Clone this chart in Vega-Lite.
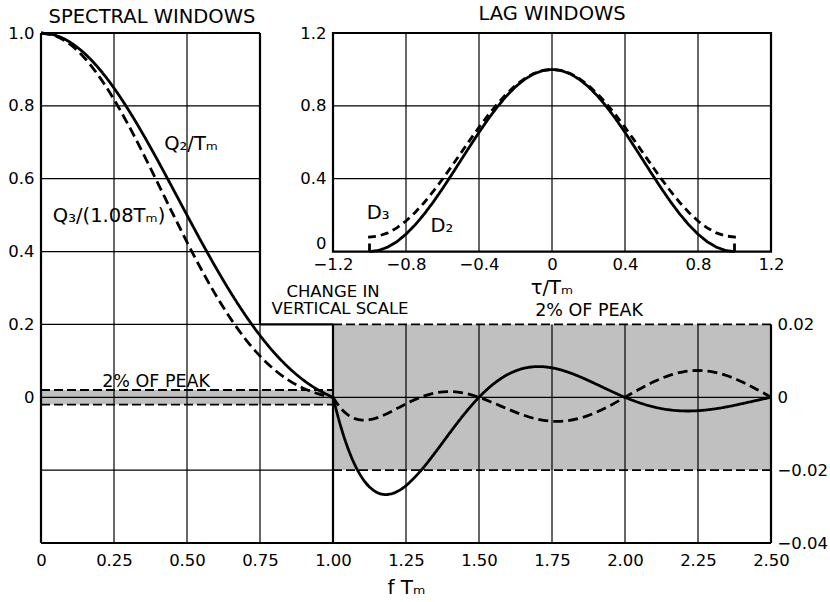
{
  "$schema": "https://vega.github.io/schema/vega-lite/v6.json",
  "width": 730,
  "height": 510,
  "autosize": "none",
  "padding": {"left": 41, "top": 33, "right": 59, "bottom": 59},
  "background": "white",
  "config": {
    "view": {"stroke": null},
    "font": "DejaVu Sans",
    "text": {"font": "DejaVu Sans", "color": "black"},
    "axis": {
      "domain": false, "ticks": false, "grid": false,
      "labelFont": "DejaVu Sans", "labelFontSize": 16.5, "labelColor": "black",
      "labelFlush": false, "labelOverlap": false,
      "titleFont": "DejaVu Sans", "titleColor": "black", "titleFontWeight": "normal", "titleFontSize": 20
    }
  },
  "datasets": {
    "spectral": [
      {"f": 0, "q": 1, "window": "Q2"},
      {"f": 0.05, "q": 0.99357, "window": "Q2"},
      {"f": 0.1, "q": 0.97447, "window": "Q2"},
      {"f": 0.15, "q": 0.94329, "window": "Q2"},
      {"f": 0.2, "q": 0.90099, "window": "Q2"},
      {"f": 0.25, "q": 0.84883, "window": "Q2"},
      {"f": 0.3, "q": 0.78836, "window": "Q2"},
      {"f": 0.35, "q": 0.72133, "window": "Q2"},
      {"f": 0.4, "q": 0.64965, "window": "Q2"},
      {"f": 0.45, "q": 0.57522, "window": "Q2"},
      {"f": 0.5, "q": 0.5, "window": "Q2"},
      {"f": 0.55, "q": 0.42582, "window": "Q2"},
      {"f": 0.6, "q": 0.35436, "window": "Q2"},
      {"f": 0.65, "q": 0.28709, "window": "Q2"},
      {"f": 0.7, "q": 0.22525, "window": "Q2"},
      {"f": 0.75, "q": 0.16977, "window": "Q2"},
      {"f": 0.8, "q": 0.12129, "window": "Q2"},
      {"f": 0.85, "q": 0.08015, "window": "Q2"},
      {"f": 0.9, "q": 0.0464, "window": "Q2"},
      {"f": 0.95, "q": 0.01984, "window": "Q2"},
      {"f": 1.0, "q": 0, "window": "Q2"},
      {"f": 1.025, "q": -0.007584, "window": "Q2"},
      {"f": 1.05, "q": -0.013736, "window": "Q2"},
      {"f": 1.075, "q": -0.018555, "window": "Q2"},
      {"f": 1.1, "q": -0.022147, "window": "Q2"},
      {"f": 1.125, "q": -0.024624, "window": "Q2"},
      {"f": 1.15, "q": -0.026099, "window": "Q2"},
      {"f": 1.175, "q": -0.026686, "window": "Q2"},
      {"f": 1.2, "q": -0.0265, "window": "Q2"},
      {"f": 1.225, "q": -0.025652, "window": "Q2"},
      {"f": 1.25, "q": -0.024252, "window": "Q2"},
      {"f": 1.3, "q": -0.020215, "window": "Q2"},
      {"f": 1.35, "q": -0.015163, "window": "Q2"},
      {"f": 1.4, "q": -0.009769, "window": "Q2"},
      {"f": 1.45, "q": -0.004577, "window": "Q2"},
      {"f": 1.5, "q": 0, "window": "Q2"},
      {"f": 1.55, "q": 0.003685, "window": "Q2"},
      {"f": 1.6, "q": 0.006328, "window": "Q2"},
      {"f": 1.65, "q": 0.00789, "window": "Q2"},
      {"f": 1.7, "q": 0.008432, "window": "Q2"},
      {"f": 1.75, "q": 0.008084, "window": "Q2"},
      {"f": 1.8, "q": 0.007031, "window": "Q2"},
      {"f": 1.85, "q": 0.005485, "window": "Q2"},
      {"f": 1.9, "q": 0.003663, "window": "Q2"},
      {"f": 1.95, "q": 0.001775, "window": "Q2"},
      {"f": 2.0, "q": 0, "window": "Q2"},
      {"f": 2.05, "q": -0.001518, "window": "Q2"},
      {"f": 2.1, "q": -0.002677, "window": "Q2"},
      {"f": 2.15, "q": -0.003424, "window": "Q2"},
      {"f": 2.2, "q": -0.003747, "window": "Q2"},
      {"f": 2.25, "q": -0.003675, "window": "Q2"},
      {"f": 2.3, "q": -0.003264, "window": "Q2"},
      {"f": 2.35, "q": -0.002598, "window": "Q2"},
      {"f": 2.4, "q": -0.001769, "window": "Q2"},
      {"f": 2.45, "q": -0.000872, "window": "Q2"},
      {"f": 2.5, "q": 0, "window": "Q2"},
      {"f": 0, "q": 1, "window": "Q3"},
      {"f": 0.05, "q": 0.9921, "window": "Q3"},
      {"f": 0.1, "q": 0.9687, "window": "Q3"},
      {"f": 0.15, "q": 0.9307, "window": "Q3"},
      {"f": 0.2, "q": 0.87964, "window": "Q3"},
      {"f": 0.25, "q": 0.81738, "window": "Q3"},
      {"f": 0.3, "q": 0.74633, "window": "Q3"},
      {"f": 0.35, "q": 0.66897, "window": "Q3"},
      {"f": 0.4, "q": 0.58805, "window": "Q3"},
      {"f": 0.45, "q": 0.5062, "window": "Q3"},
      {"f": 0.5, "q": 0.42593, "window": "Q3"},
      {"f": 0.55, "q": 0.34948, "window": "Q3"},
      {"f": 0.6, "q": 0.27876, "window": "Q3"},
      {"f": 0.65, "q": 0.21521, "window": "Q3"},
      {"f": 0.7, "q": 0.15984, "window": "Q3"},
      {"f": 0.75, "q": 0.11318, "window": "Q3"},
      {"f": 0.8, "q": 0.07529, "window": "Q3"},
      {"f": 0.85, "q": 0.04583, "window": "Q3"},
      {"f": 0.9, "q": 0.02413, "window": "Q3"},
      {"f": 0.95, "q": 0.00923, "window": "Q3"},
      {"f": 1.0, "q": 0, "window": "Q3"},
      {"f": 1.025, "q": -0.002862, "window": "Q3"},
      {"f": 1.05, "q": -0.004762, "window": "Q3"},
      {"f": 1.075, "q": -0.005848, "window": "Q3"},
      {"f": 1.1, "q": -0.006267, "window": "Q3"},
      {"f": 1.125, "q": -0.006156, "window": "Q3"},
      {"f": 1.15, "q": -0.005645, "window": "Q3"},
      {"f": 1.175, "q": -0.004853, "window": "Q3"},
      {"f": 1.2, "q": -0.003887, "window": "Q3"},
      {"f": 1.225, "q": -0.002841, "window": "Q3"},
      {"f": 1.25, "q": -0.001796, "window": "Q3"},
      {"f": 1.3, "q": 0.00003, "window": "Q3"},
      {"f": 1.35, "q": 0.001213, "window": "Q3"},
      {"f": 1.4, "q": 0.001578, "window": "Q3"},
      {"f": 1.45, "q": 0.001126, "window": "Q3"},
      {"f": 1.5, "q": 0, "window": "Q3"},
      {"f": 1.55, "q": -0.001561, "window": "Q3"},
      {"f": 1.6, "q": -0.003272, "window": "Q3"},
      {"f": 1.65, "q": -0.004839, "window": "Q3"},
      {"f": 1.7, "q": -0.006009, "window": "Q3"},
      {"f": 1.75, "q": -0.006587, "window": "Q3"},
      {"f": 1.8, "q": -0.006469, "window": "Q3"},
      {"f": 1.85, "q": -0.005639, "window": "Q3"},
      {"f": 1.9, "q": -0.004174, "window": "Q3"},
      {"f": 1.95, "q": -0.002225, "window": "Q3"},
      {"f": 2.0, "q": 0, "window": "Q3"},
      {"f": 2.05, "q": 0.002262, "window": "Q3"},
      {"f": 2.1, "q": 0.004319, "window": "Q3"},
      {"f": 2.15, "q": 0.005956, "window": "Q3"},
      {"f": 2.2, "q": 0.007001, "window": "Q3"},
      {"f": 2.25, "q": 0.007349, "window": "Q3"},
      {"f": 2.3, "q": 0.006969, "window": "Q3"},
      {"f": 2.35, "q": 0.005904, "window": "Q3"},
      {"f": 2.4, "q": 0.004268, "window": "Q3"},
      {"f": 2.45, "q": 0.002231, "window": "Q3"},
      {"f": 2.5, "q": 0, "window": "Q3"}
    ],
    "lag": [
      {"tau": -1, "d": 0, "window": "D2"},
      {"tau": -0.95, "d": 0.00616, "window": "D2"},
      {"tau": -0.9, "d": 0.02447, "window": "D2"},
      {"tau": -0.85, "d": 0.0545, "window": "D2"},
      {"tau": -0.8, "d": 0.09549, "window": "D2"},
      {"tau": -0.75, "d": 0.14645, "window": "D2"},
      {"tau": -0.7, "d": 0.20611, "window": "D2"},
      {"tau": -0.65, "d": 0.273, "window": "D2"},
      {"tau": -0.6, "d": 0.34549, "window": "D2"},
      {"tau": -0.55, "d": 0.42178, "window": "D2"},
      {"tau": -0.5, "d": 0.5, "window": "D2"},
      {"tau": -0.45, "d": 0.57822, "window": "D2"},
      {"tau": -0.4, "d": 0.65451, "window": "D2"},
      {"tau": -0.35, "d": 0.727, "window": "D2"},
      {"tau": -0.3, "d": 0.79389, "window": "D2"},
      {"tau": -0.25, "d": 0.85355, "window": "D2"},
      {"tau": -0.2, "d": 0.90451, "window": "D2"},
      {"tau": -0.15, "d": 0.9455, "window": "D2"},
      {"tau": -0.1, "d": 0.97553, "window": "D2"},
      {"tau": -0.05, "d": 0.99384, "window": "D2"},
      {"tau": 0, "d": 1, "window": "D2"},
      {"tau": 0.05, "d": 0.99384, "window": "D2"},
      {"tau": 0.1, "d": 0.97553, "window": "D2"},
      {"tau": 0.15, "d": 0.9455, "window": "D2"},
      {"tau": 0.2, "d": 0.90451, "window": "D2"},
      {"tau": 0.25, "d": 0.85355, "window": "D2"},
      {"tau": 0.3, "d": 0.79389, "window": "D2"},
      {"tau": 0.35, "d": 0.727, "window": "D2"},
      {"tau": 0.4, "d": 0.65451, "window": "D2"},
      {"tau": 0.45, "d": 0.57822, "window": "D2"},
      {"tau": 0.5, "d": 0.5, "window": "D2"},
      {"tau": 0.55, "d": 0.42178, "window": "D2"},
      {"tau": 0.6, "d": 0.34549, "window": "D2"},
      {"tau": 0.65, "d": 0.273, "window": "D2"},
      {"tau": 0.7, "d": 0.20611, "window": "D2"},
      {"tau": 0.75, "d": 0.14645, "window": "D2"},
      {"tau": 0.8, "d": 0.09549, "window": "D2"},
      {"tau": 0.85, "d": 0.0545, "window": "D2"},
      {"tau": 0.9, "d": 0.02447, "window": "D2"},
      {"tau": 0.95, "d": 0.00616, "window": "D2"},
      {"tau": 1, "d": 0, "window": "D2"},
      {"tau": -1, "d": 0, "window": "D3"},
      {"tau": -1, "d": 0.08, "window": "D3"},
      {"tau": -0.95, "d": 0.08566, "window": "D3"},
      {"tau": -0.9, "d": 0.10251, "window": "D3"},
      {"tau": -0.85, "d": 0.13014, "window": "D3"},
      {"tau": -0.8, "d": 0.16785, "window": "D3"},
      {"tau": -0.75, "d": 0.21473, "window": "D3"},
      {"tau": -0.7, "d": 0.26962, "window": "D3"},
      {"tau": -0.65, "d": 0.33116, "window": "D3"},
      {"tau": -0.6, "d": 0.39785, "window": "D3"},
      {"tau": -0.55, "d": 0.46804, "window": "D3"},
      {"tau": -0.5, "d": 0.54, "window": "D3"},
      {"tau": -0.45, "d": 0.61196, "window": "D3"},
      {"tau": -0.4, "d": 0.68215, "window": "D3"},
      {"tau": -0.35, "d": 0.74884, "window": "D3"},
      {"tau": -0.3, "d": 0.81038, "window": "D3"},
      {"tau": -0.25, "d": 0.86527, "window": "D3"},
      {"tau": -0.2, "d": 0.91215, "window": "D3"},
      {"tau": -0.15, "d": 0.94986, "window": "D3"},
      {"tau": -0.1, "d": 0.97749, "window": "D3"},
      {"tau": -0.05, "d": 0.99434, "window": "D3"},
      {"tau": 0, "d": 1, "window": "D3"},
      {"tau": 0.05, "d": 0.99434, "window": "D3"},
      {"tau": 0.1, "d": 0.97749, "window": "D3"},
      {"tau": 0.15, "d": 0.94986, "window": "D3"},
      {"tau": 0.2, "d": 0.91215, "window": "D3"},
      {"tau": 0.25, "d": 0.86527, "window": "D3"},
      {"tau": 0.3, "d": 0.81038, "window": "D3"},
      {"tau": 0.35, "d": 0.74884, "window": "D3"},
      {"tau": 0.4, "d": 0.68215, "window": "D3"},
      {"tau": 0.45, "d": 0.61196, "window": "D3"},
      {"tau": 0.5, "d": 0.54, "window": "D3"},
      {"tau": 0.55, "d": 0.46804, "window": "D3"},
      {"tau": 0.6, "d": 0.39785, "window": "D3"},
      {"tau": 0.65, "d": 0.33116, "window": "D3"},
      {"tau": 0.7, "d": 0.26962, "window": "D3"},
      {"tau": 0.75, "d": 0.21473, "window": "D3"},
      {"tau": 0.8, "d": 0.16785, "window": "D3"},
      {"tau": 0.85, "d": 0.13014, "window": "D3"},
      {"tau": 0.9, "d": 0.10251, "window": "D3"},
      {"tau": 0.95, "d": 0.08566, "window": "D3"},
      {"tau": 1, "d": 0.08, "window": "D3"},
      {"tau": 1, "d": 0, "window": "D3"}
    ],
    "mainGrid": [
      {"f": 0.25, "f2": 0.25, "v": -0.4, "v2": 1},
      {"f": 0.5, "f2": 0.5, "v": -0.4, "v2": 1},
      {"f": 0.75, "f2": 0.75, "v": -0.4, "v2": 0.2},
      {"f": 0, "f2": 0.75, "v": 0.8, "v2": 0.8},
      {"f": 0, "f2": 0.75, "v": 0.6, "v2": 0.6},
      {"f": 0, "f2": 0.75, "v": 0.4, "v2": 0.4},
      {"f": 0, "f2": 0.75, "v": 0.2, "v2": 0.2},
      {"f": 0, "f2": 1, "v": 0, "v2": 0},
      {"f": 0, "f2": 1, "v": -0.2, "v2": -0.2}
    ],
    "mainFrame": [
      {"f": 0, "f2": 0, "v": -0.4, "v2": 1},
      {"f": 0, "f2": 0.75, "v": 1, "v2": 1},
      {"f": 0.75, "f2": 0.75, "v": 0.2, "v2": 1},
      {"f": 0.75, "f2": 1, "v": 0.2, "v2": 0.2},
      {"f": 0, "f2": 1, "v": -0.4, "v2": -0.4}
    ],
    "rightGrid": [
      {"f": 1.25, "f2": 1.25, "v": -0.04, "v2": 0.02},
      {"f": 1.5, "f2": 1.5, "v": -0.04, "v2": 0.02},
      {"f": 1.75, "f2": 1.75, "v": -0.04, "v2": 0.02},
      {"f": 2.0, "f2": 2.0, "v": -0.04, "v2": 0.02},
      {"f": 2.25, "f2": 2.25, "v": -0.04, "v2": 0.02},
      {"f": 1, "f2": 2.5, "v": 0, "v2": 0}
    ],
    "rightFrame": [
      {"f": 1, "f2": 1, "v": -0.04, "v2": 0.02},
      {"f": 2.5, "f2": 2.5, "v": -0.04, "v2": 0.02},
      {"f": 1, "f2": 2.5, "v": -0.04, "v2": -0.04}
    ],
    "lagGrid": [
      {"t": -0.8, "t2": -0.8, "d": 0, "d2": 1.2},
      {"t": -0.4, "t2": -0.4, "d": 0, "d2": 1.2},
      {"t": 0, "t2": 0, "d": 0, "d2": 1.2},
      {"t": 0.4, "t2": 0.4, "d": 0, "d2": 1.2},
      {"t": 0.8, "t2": 0.8, "d": 0, "d2": 1.2},
      {"t": -1.2, "t2": 1.2, "d": 0.4, "d2": 0.4},
      {"t": -1.2, "t2": 1.2, "d": 0.8, "d2": 0.8}
    ]
  },
  "layer": [
    {
      "layer": [
        {
          "data": {"values": [{"f": 0, "f2": 1, "v": -0.02, "v2": 0.02}]},
          "mark": {"type": "rect", "fill": "#c0c0c0"},
          "encoding": {
            "x": {"field": "f", "type": "quantitative", "scale": {"domain": [0, 2.5], "nice": false, "zero": false},
              "axis": {"values": [0, 0.25, 0.5, 0.75, 1, 1.25, 1.5, 1.75, 2, 2.25, 2.5], "format": ".2f",
                "labelExpr": "datum.value == 0 ? '0' : datum.label", "labelPadding": 9, "title": "f Tₘ", "titlePadding": 9}},
            "x2": {"field": "f2"},
            "y": {"field": "v", "type": "quantitative", "scale": {"domain": [-0.4, 1.0], "nice": false, "zero": false},
              "axis": {"values": [0, 0.2, 0.4, 0.6, 0.8, 1], "format": ".1f",
                "labelExpr": "datum.value == 0 ? '0' : datum.label", "labelPadding": 7, "title": null}},
            "y2": {"field": "v2"}
          }
        },
        {
          "data": {"name": "mainGrid"},
          "mark": {"type": "rule", "color": "black", "strokeWidth": 1.2},
          "encoding": {
            "x": {"field": "f", "type": "quantitative"}, "x2": {"field": "f2"},
            "y": {"field": "v", "type": "quantitative"}, "y2": {"field": "v2"}
          }
        },
        {
          "data": {"values": [{"f": 0, "f2": 1, "v": 0.02, "v2": 0.02}, {"f": 0, "f2": 1, "v": -0.02, "v2": -0.02}]},
          "mark": {"type": "rule", "color": "black", "strokeWidth": 1.8, "strokeDash": [9, 4]},
          "encoding": {
            "x": {"field": "f", "type": "quantitative"}, "x2": {"field": "f2"},
            "y": {"field": "v", "type": "quantitative"}, "y2": {"field": "v2"}
          }
        },
        {
          "data": {"name": "mainFrame"},
          "mark": {"type": "rule", "color": "black", "strokeWidth": 2.2},
          "encoding": {
            "x": {"field": "f", "type": "quantitative"}, "x2": {"field": "f2"},
            "y": {"field": "v", "type": "quantitative"}, "y2": {"field": "v2"}
          }
        },
        {
          "data": {"name": "spectral"},
          "transform": [{"filter": "datum.f <= 1"}],
          "mark": {"type": "line", "color": "black", "strokeWidth": 2.8, "interpolate": "catmull-rom"},
          "encoding": {
            "x": {"field": "f", "type": "quantitative"},
            "y": {"field": "q", "type": "quantitative"},
            "strokeDash": {"field": "window", "type": "nominal", "scale": {"domain": ["Q2", "Q3"], "range": [[1, 0], [10, 5]]}, "legend": null}
          }
        },
        {
          "data": {"values": [
            {"f": 0.38, "v": 1.028, "label": "SPECTRAL WINDOWS"},
            {"f": 0.514, "v": 0.679, "label": "Q₂/Tₘ"},
            {"f": 0.233, "v": 0.48, "label": "Q₃/(1.08Tₘ)"}
          ]},
          "mark": {"type": "text", "fontSize": 19.5, "align": "center", "baseline": "alphabetic"},
          "encoding": {
            "x": {"field": "f", "type": "quantitative"},
            "y": {"field": "v", "type": "quantitative"},
            "text": {"field": "label"}
          }
        },
        {
          "data": {"values": [
            {"f": 0.394, "v": 0.027, "label": "2% OF PEAK"}
          ]},
          "mark": {"type": "text", "fontSize": 17.5, "align": "center", "baseline": "alphabetic"},
          "encoding": {
            "x": {"field": "f", "type": "quantitative"},
            "y": {"field": "v", "type": "quantitative"},
            "text": {"field": "label"}
          }
        },
        {
          "data": {"values": [
            {"f": 1.0, "v": 0.2756, "label": "CHANGE IN"},
            {"f": 1.024, "v": 0.2287, "label": "VERTICAL SCALE"}
          ]},
          "mark": {"type": "text", "fontSize": 16.5, "align": "center", "baseline": "alphabetic"},
          "encoding": {
            "x": {"field": "f", "type": "quantitative"},
            "y": {"field": "v", "type": "quantitative"},
            "text": {"field": "label"}
          }
        }
      ]
    },
    {
      "layer": [
        {
          "data": {"values": [{"f": 1, "f2": 2.5, "v": -0.02, "v2": 0.02}]},
          "mark": {"type": "rect", "fill": "#c0c0c0"},
          "encoding": {
            "x": {"field": "f", "type": "quantitative", "scale": {"domain": [0, 2.5], "nice": false, "zero": false}, "axis": null},
            "x2": {"field": "f2"},
            "y": {"field": "v", "type": "quantitative", "scale": {"domain": [-0.04, 0.1], "nice": false, "zero": false},
              "axis": {"orient": "right", "values": [0.02, 0, -0.02, -0.04], "format": ".2f",
                "labelExpr": "datum.value == 0 ? '0' : datum.label", "labelPadding": 6, "title": null}},
            "y2": {"field": "v2"}
          }
        },
        {
          "data": {"name": "rightGrid"},
          "mark": {"type": "rule", "color": "black", "strokeWidth": 1.2},
          "encoding": {
            "x": {"field": "f", "type": "quantitative"}, "x2": {"field": "f2"},
            "y": {"field": "v", "type": "quantitative"}, "y2": {"field": "v2"}
          }
        },
        {
          "data": {"values": [{"f": 1, "f2": 2.5, "v": 0.02, "v2": 0.02}, {"f": 1, "f2": 2.5, "v": -0.02, "v2": -0.02}]},
          "mark": {"type": "rule", "color": "black", "strokeWidth": 1.8, "strokeDash": [9, 4]},
          "encoding": {
            "x": {"field": "f", "type": "quantitative"}, "x2": {"field": "f2"},
            "y": {"field": "v", "type": "quantitative"}, "y2": {"field": "v2"}
          }
        },
        {
          "data": {"name": "rightFrame"},
          "mark": {"type": "rule", "color": "black", "strokeWidth": 2.2},
          "encoding": {
            "x": {"field": "f", "type": "quantitative"}, "x2": {"field": "f2"},
            "y": {"field": "v", "type": "quantitative"}, "y2": {"field": "v2"}
          }
        },
        {
          "data": {"name": "spectral"},
          "transform": [{"filter": "datum.f >= 1"}],
          "mark": {"type": "line", "color": "black", "strokeWidth": 2.8, "interpolate": "catmull-rom"},
          "encoding": {
            "x": {"field": "f", "type": "quantitative"},
            "y": {"field": "q", "type": "quantitative"},
            "strokeDash": {"field": "window", "type": "nominal", "scale": {"domain": ["Q2", "Q3"], "range": [[1, 0], [10, 5]]}, "legend": null}
          }
        },
        {
          "data": {"values": [{"f": 1.877, "v": 0.0222, "label": "2% OF PEAK"}]},
          "mark": {"type": "text", "fontSize": 17.5, "align": "center", "baseline": "alphabetic"},
          "encoding": {
            "x": {"field": "f", "type": "quantitative"},
            "y": {"field": "v", "type": "quantitative"},
            "text": {"field": "label"}
          }
        }
      ]
    },
    {
      "layer": [
        {
          "data": {"values": [{"t": -1.2, "t2": 1.2, "d": 0, "d2": 1.2}]},
          "mark": {"type": "rect", "fill": null, "stroke": "black", "strokeWidth": 2.2},
          "encoding": {
            "x": {"field": "t", "type": "quantitative", "scale": {"domain": [-2.8, 1.2], "nice": false, "zero": false},
              "axis": {"orient": "bottom", "offset": -291.4, "values": [-1.2, -0.8, -0.4, 0, 0.4, 0.8, 1.2], "format": ".1f",
                "labelExpr": "datum.value == 0 ? '0' : datum.label", "labelPadding": 5, "title": null}},
            "x2": {"field": "t2"},
            "y": {"field": "d", "type": "quantitative", "scale": {"domain": [-1.6, 1.2], "nice": false, "zero": false},
              "axis": {"orient": "left", "offset": -292, "values": [0, 0.4, 0.8, 1.2], "format": ".1f",
                "labelExpr": "datum.value == 0 ? '0' : datum.label", "labelPadding": 7, "title": null,
                "labelBaseline": {"condition": {"test": "datum.value == 0", "value": "bottom"}, "value": "middle"}}},
            "y2": {"field": "d2"}
          }
        },
        {
          "data": {"name": "lagGrid"},
          "mark": {"type": "rule", "color": "black", "strokeWidth": 1.2},
          "encoding": {
            "x": {"field": "t", "type": "quantitative"}, "x2": {"field": "t2"},
            "y": {"field": "d", "type": "quantitative"}, "y2": {"field": "d2"}
          }
        },
        {
          "data": {"name": "lag"},
          "mark": {"type": "line", "color": "black", "strokeWidth": 2.8},
          "encoding": {
            "x": {"field": "tau", "type": "quantitative"},
            "y": {"field": "d", "type": "quantitative"},
            "order": {"value": null},
            "strokeDash": {"field": "window", "type": "nominal", "scale": {"domain": ["D2", "D3"], "range": [[1, 0], [8, 5]]}, "legend": null}
          }
        },
        {
          "data": {"values": [
            {"t": 0, "d": 1.271, "label": "LAG WINDOWS"},
            {"t": -0.953, "d": 0.18, "label": "D₃"},
            {"t": -0.603, "d": 0.105, "label": "D₂"},
            {"t": 0, "d": -0.235, "label": "τ/Tₘ"}
          ]},
          "mark": {"type": "text", "fontSize": 19.5, "align": "center", "baseline": "alphabetic"},
          "encoding": {
            "x": {"field": "t", "type": "quantitative"},
            "y": {"field": "d", "type": "quantitative"},
            "text": {"field": "label"}
          }
        }
      ]
    }
  ],
  "resolve": {"scale": {"x": "independent", "y": "independent", "strokeDash": "independent"}}
}
